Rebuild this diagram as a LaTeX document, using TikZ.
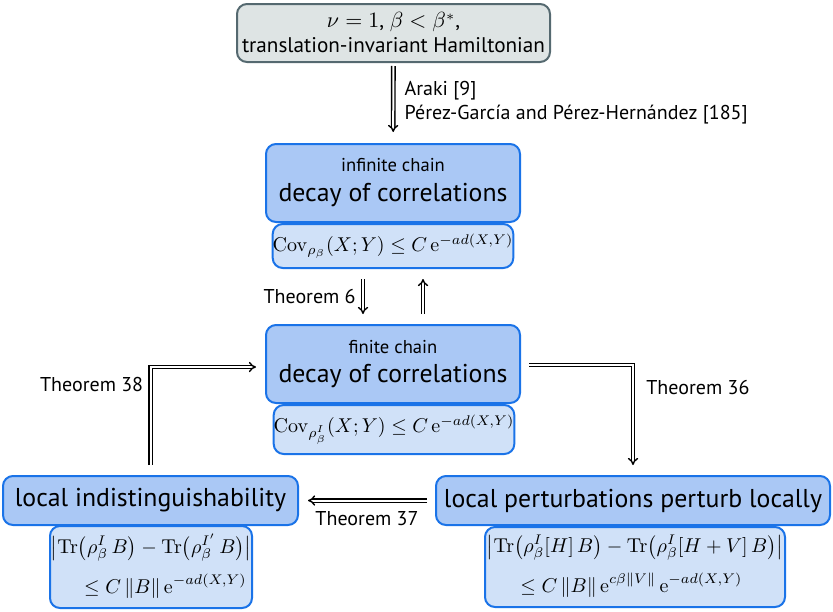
\documentclass[tikz,border=0pt]{standalone}
\usepackage{amsmath}
\usepackage{amssymb}
\usepackage[no-math]{fontspec}
\setmainfont{PT Sans}
\usepackage{xcolor}
\usetikzlibrary{arrows.meta}

\definecolor{boxline}{RGB}{26,115,232}
\definecolor{boxfill}{RGB}{170,200,245}
\definecolor{covfill}{RGB}{208,225,248}
\definecolor{topline}{RGB}{85,105,112}
\definecolor{topfill}{RGB}{222,228,228}

\newcommand{\bigtext}{\fontsize{12.9}{15}\selectfont}
\newcommand{\smalltext}{\fontsize{9.3}{11}\selectfont}

\begin{document}
\begin{tikzpicture}[x=0.5pt, y=-0.5pt,
    mainbox/.style={draw=boxline, fill=boxfill, line width=1pt, rounded corners=5pt, align=center, inner sep=0pt},
    covbox/.style={draw=boxline, fill=covfill, line width=1pt, rounded corners=5pt, align=center, inner sep=0pt},
    impl/.style={double, double distance=1pt, line width=0.7pt, -{Implies[length=3.5pt, width=9pt]}}]
    \useasboundingbox (0, 0) rectangle (833, 611);

    \node[draw=topline, fill=topfill, line width=1pt, rounded corners=5pt, align=center,
          minimum width=156.5pt, minimum height=29pt, inner sep=0pt, font=\fontsize{10.6}{12.5}\selectfont] (start) at (393.5, 33)
        {$\nu = 1$, $\beta < \beta^*$,\\ translation-invariant Hamiltonian};

    \node[mainbox, minimum width=127pt, minimum height=39pt] (inf) at (393, 183)
        {\smalltext infinite chain\\[3pt] \bigtext decay of correlations};
    \node[covbox, minimum width=118pt, minimum height=22pt] (infcov) at (393, 246)
        {$\mathrm{Cov}_{\rho_\beta}(X;Y) \le C\,\mathrm{e}^{-ad(X,Y)}$};

    \node[mainbox, minimum width=127pt, minimum height=39pt] (fin) at (393, 364)
        {\smalltext finite chain\\[2.5pt] \bigtext decay of correlations};
    \node[covbox, minimum width=118pt, minimum height=24.5pt] (fincov) at (394, 429.5)
        {$\mathrm{Cov}_{\rho^I_\beta}(X;Y) \le C\,\mathrm{e}^{-ad(X,Y)}$};

    \node[mainbox, minimum width=147.5pt, minimum height=24.5pt] (indist) at (150.5, 500.5)
        {\bigtext local indistinguishability};
    \node[covbox, minimum width=101pt, minimum height=41pt] (indcov) at (151, 567)
        {$\begin{aligned}
            &\bigl|\mathrm{Tr}\bigl(\rho^I_\beta\,B\bigr) - \mathrm{Tr}\bigl(\rho^{I'}_\beta\,B\bigr)\bigr|\\[2.5pt]
            &\hspace{14pt}\le C\,\lVert B\rVert\,\mathrm{e}^{-ad(X,Y)}
          \end{aligned}$};

    \node[mainbox, minimum width=197pt, minimum height=24.5pt] (pert) at (633, 500.5)
        {\bigtext local perturbations perturb locally};
    \node[covbox, minimum width=150pt, minimum height=40pt] (pertcov) at (635, 567)
        {$\begin{aligned}
            &\bigl|\mathrm{Tr}\bigl(\rho^I_\beta[H]\,B\bigr) - \mathrm{Tr}\bigl(\rho^I_\beta[H+V]\,B\bigr)\bigr|\\[2.5pt]
            &\hspace{14pt}\le C\,\lVert B\rVert\,\mathrm{e}^{c\beta\lVert V\rVert}\,\mathrm{e}^{-ad(X,Y)}
          \end{aligned}$};

    % implications
    \draw[impl, shorten <=1.5pt, shorten >=5.5pt] (start) -- (inf)
        node[midway, right, align=left, xshift=2pt] {Araki [9]\\ Pérez-García and Pérez-Hernández [185]};
    \draw[impl] ([xshift=-15pt, yshift=-5pt]infcov.south) -- ([xshift=-15pt, yshift=5pt]fin.north)
        node[midway, left] {Theorem 6};
    \draw[impl] ([xshift=15pt, yshift=5pt]fin.north) -- ([xshift=15pt, yshift=-5pt]infcov.south);
    \draw[impl, shorten <=5pt, shorten >=4.5pt] (indist.north) |- ([yshift=-1.5pt]fin.west)
        node[pos=0.42, left] {Theorem 38};
    \draw[impl, shorten <=4pt, shorten >=5pt] ([yshift=-0.5pt]fin.east) -| (pert.north)
        node[pos=0.6, right, xshift=3pt] {Theorem 36};
    \draw[impl, shorten <=4pt, shorten >=4.5pt] (pert.west) -- (indist.east)
        node[midway, below, yshift=-2pt] {Theorem 37};
\end{tikzpicture}
\end{document}
